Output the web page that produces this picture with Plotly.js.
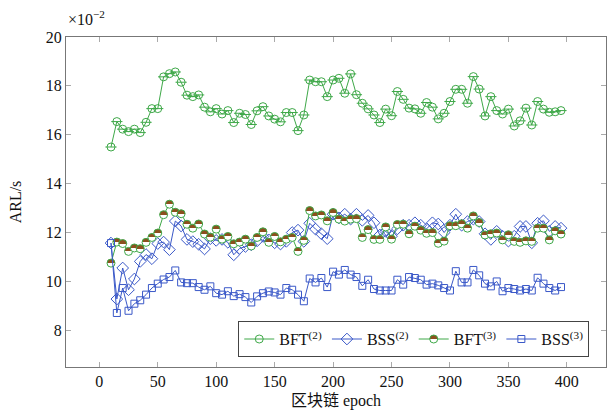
<!DOCTYPE html>
<html>
<head>
<meta charset="utf-8">
<script src="https://cdn.plot.ly/plotly-3.0.1.min.js"></script>
<style>
  html, body { margin: 0; padding: 0; background: #fff; }
  #chart { width: 609px; height: 410px; }
</style>
</head>
<body>
<div id="chart"></div>
<script>
// Epochs sampled every 5 from 10 to 395
const epochs = [10,15,20,25,30,35,40,45,50,55,60,65,70,75,80,85,90,95,100,105,
  110,115,120,125,130,135,140,145,150,155,160,165,170,175,180,185,190,195,200,205,
  210,215,220,225,230,235,240,245,250,255,260,265,270,275,280,285,290,295,300,305,
  310,315,320,325,330,335,340,345,350,355,360,365,370,375,380,385,390,395];

// ARL values in units of 1e-2 s
const bft2 = [15.5,16.54,16.23,16.13,16.23,16.09,16.51,17.07,17.07,18.37,
  18.5,18.57,18.15,17.62,17.56,17.63,17.13,16.94,17.07,16.85,
  16.99,16.5,16.88,16.83,16.42,16.98,17.15,16.77,16.64,16.53,
  16.91,16.91,16.17,16.81,18.24,18.17,18.17,17.56,18.24,18.31,
  17.7,18.49,17.64,17.29,17.06,16.81,16.5,17.05,16.78,17.77,
  17.45,17.09,17.06,16.88,17.32,17.13,16.65,16.88,17.36,17.86,
  17.86,17.29,18.38,17.87,16.77,17.56,16.99,16.85,17.05,16.36,
  16.57,17.09,16.4,17.36,17.05,16.92,16.94,16.99];

const bss2 = [11.57,9.28,10.55,9.66,10.1,10.82,11.1,10.93,11.55,11.61,
  11.3,12.47,12.27,11.72,11.63,11.52,11.33,11.75,11.68,11.72,
  11.6,11.09,11.35,11.43,11.5,11.66,11.84,11.7,11.58,11.53,
  11.64,12.0,12.1,11.64,12.38,12.14,11.95,11.75,12.75,12.6,
  12.75,12.55,12.75,12.5,12.7,12.4,11.9,12.05,11.85,12.15,
  12.3,12.3,12.4,12.3,12.15,12.4,12.35,12.0,12.3,12.75,
  12.3,12.45,12.55,12.45,11.95,11.72,12.05,11.85,11.65,11.85,
  12.25,12.25,11.58,12.38,12.48,12.05,12.25,12.18];

const bft3 = [10.75,11.61,11.55,11.23,11.37,11.34,11.6,11.8,11.98,12.73,
  13.16,12.83,12.77,12.34,12.18,12.35,11.94,11.81,12.14,11.73,
  11.84,11.54,11.61,11.73,11.45,11.8,12.03,11.6,11.84,11.62,
  11.73,11.8,11.23,11.68,12.9,12.68,12.72,12.48,12.82,12.55,
  12.47,12.55,12.57,11.8,12.12,11.72,11.72,12.23,11.73,12.33,
  12.34,11.95,12.26,12.1,11.97,12.0,11.56,11.65,12.28,12.28,
  12.36,12.18,12.68,12.41,11.9,11.95,11.98,11.7,11.91,11.64,
  11.6,11.66,11.64,12.18,12.18,11.7,12.07,11.94];

const bss3 = [11.57,8.71,9.73,8.8,9.09,9.23,9.46,9.73,9.91,10.08,
  10.18,10.45,9.96,9.93,9.93,9.77,9.66,9.8,9.52,9.46,
  9.6,9.4,9.48,9.36,9.14,9.39,9.52,9.59,9.55,9.46,
  9.73,9.66,9.46,9.19,10.12,9.96,10.14,9.77,10.4,10.28,
  10.47,10.28,10.18,9.82,10.07,9.69,9.63,9.63,9.63,10.07,
  9.87,10.18,10.14,10.07,9.87,9.91,9.84,9.73,9.63,10.42,
  9.96,9.96,10.47,10.25,9.91,9.8,10.0,9.6,9.73,9.69,
  9.63,9.69,9.63,10.15,9.91,9.73,9.63,9.77];

const seriesNames = ['BFT<sup>(2)</sup>', 'BSS<sup>(2)</sup>', 'BFT<sup>(3)</sup>', 'BSS<sup>(3)</sup>'];
const xTicks = [0,50,100,150,200,250,300,350,400];
const yTicks = [8,10,12,14,16,18,20];

const GREEN = 'rgb(62,168,72)';
const BLUE = 'rgb(58,88,200)';
const BROWN = 'rgb(140,80,30)';
const FONT = 'Liberation Serif, Noto Sans CJK SC, serif';

const traces = [
  {
    x: epochs, y: bft2, name: seriesNames[0], type: 'scatter', mode: 'lines+markers',
    line: {color: GREEN, width: 1},
    marker: {symbol: 'circle', size: 8, color: 'rgba(255,255,255,0)', line: {color: GREEN, width: 1}}
  },
  {
    // horizontal bar inside each BFT(2) circle
    x: epochs, y: bft2, name: 'bft2-bar', type: 'scatter', mode: 'markers',
    showlegend: false, hoverinfo: 'skip',
    marker: {symbol: 'line-ew', size: 8, line: {color: GREEN, width: 1}}
  },
  {
    x: epochs, y: bss2, name: seriesNames[1], type: 'scatter', mode: 'lines+markers',
    line: {color: BLUE, width: 1},
    marker: {symbol: 'diamond', size: 9, color: 'rgba(255,255,255,0)', line: {color: BLUE, width: 1}}
  },
  {
    x: epochs, y: bft3, name: seriesNames[2], type: 'scatter', mode: 'lines+markers',
    line: {color: GREEN, width: 1},
    marker: {symbol: 'circle', size: 8, color: BROWN,
             gradient: {type: 'vertical', color: '#ffffff'},
             line: {color: GREEN, width: 1}}
  },
  {
    x: epochs, y: bss3, name: seriesNames[3], type: 'scatter', mode: 'lines+markers',
    line: {color: BLUE, width: 1},
    marker: {symbol: 'square', size: 7, color: 'rgba(255,255,255,0)', line: {color: BLUE, width: 1}}
  }
];

const axisCommon = {
  showgrid: false, zeroline: false, showline: true, mirror: 'ticks',
  linecolor: '#777', linewidth: 1,
  ticks: 'inside', ticklen: 5, tickcolor: '#aaa', tickwidth: 1,
  tickfont: {family: FONT, size: 16, color: '#111'}
};

const layout = {
  width: 609, height: 410,
  margin: {l: 66, r: 3, t: 37, b: 43},
  paper_bgcolor: '#fff', plot_bgcolor: '#fff',
  font: {family: FONT, color: '#111'},
  showlegend: true,
  legend: {
    orientation: 'h', x: 0.969, y: 0.03, xanchor: 'right', yanchor: 'bottom',
    bordercolor: '#444', borderwidth: 1, bgcolor: '#fff',
    font: {family: FONT, size: 16, color: '#111'},
    itemwidth: 30, tracegroupgap: 0, itemclick: false
  },
  xaxis: Object.assign({}, axisCommon, {
    range: [-28.5, 433.5], tickmode: 'array', tickvals: xTicks,
    ticktext: xTicks.map(String),
    title: {text: '区块链 epoch', font: {family: FONT, size: 16, color: '#111'}, standoff: 5}
  }),
  yaxis: Object.assign({}, axisCommon, {
    range: [6.5, 20], tickmode: 'array', tickvals: yTicks,
    ticktext: yTicks.map(String),
    title: {text: 'ARL/s', font: {family: FONT, size: 16, color: '#111'}, standoff: 20}
  }),
  annotations: [{
    xref: 'paper', yref: 'paper', x: 0.0, y: 1.02, xanchor: 'left', yanchor: 'bottom',
    text: '×10<sup>−2</sup>', showarrow: false,
    font: {family: FONT, size: 16, color: '#111'}
  }]
};

Plotly.newPlot('chart', traces, layout, {displayModeBar: false, staticPlot: true}).then(gd => {
  // Turn the vertical marker gradient into a crisp half-filled circle
  gd.querySelectorAll('linearGradient').forEach(g => {
    const stops = g.querySelectorAll('stop');
    if (stops.length < 2) return;
    const first = stops[0];
    const last = stops[stops.length - 1];
    const a = first.cloneNode(true);
    const b = last.cloneNode(true);
    a.setAttribute('offset', '50%');
    b.setAttribute('offset', '50%');
    g.insertBefore(a, last);
    g.insertBefore(b, last);
  });
});
</script>
</body>
</html>
